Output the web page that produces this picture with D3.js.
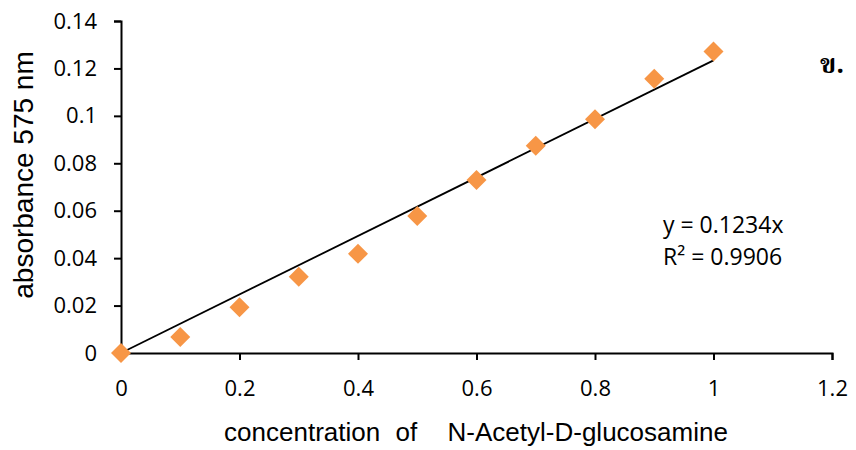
<!DOCTYPE html>
<html>
<head>
<meta charset="utf-8">
<script src="https://cdn.jsdelivr.net/npm/d3@7"></script>
<style>
  body { margin: 0; background: #fff; }
  text { font-family: "Open Sans", "Liberation Sans", sans-serif; fill: #000; }
  .title { font-family: "Liberation Sans", Arial, sans-serif; }
</style>
</head>
<body>
<svg width="856" height="450"></svg>
<script>
// concentration of N-Acetyl-D-glucosamine vs absorbance at 575 nm
var concentration = [0, 0.1, 0.2, 0.3, 0.4, 0.5, 0.6, 0.7, 0.8, 0.9, 1.0];
var absorbance = [0, 0.0067, 0.0193, 0.0322, 0.0418, 0.0578, 0.0730, 0.0874, 0.0986, 0.1157, 0.1271];
var slope = 0.1234;
var xTicks = [0, 0.2, 0.4, 0.6, 0.8, 1, 1.2];
var yTicks = [0, 0.02, 0.04, 0.06, 0.08, 0.1, 0.12, 0.14];
var equationLines = ["y = 0.1234x", "R\u00b2 = 0.9906"];

var svg = d3.select("svg");
var x = d3.scaleLinear().domain([0, 1.2]).range([121, 832]);
var y = d3.scaleLinear().domain([0, 0.14]).range([353, 21]);

var xAxis = svg.append("g")
    .attr("transform", "translate(0," + y(0) + ")")
    .call(d3.axisBottom(x).tickValues(xTicks).tickFormat(d3.format("")).tickSize(7).tickPadding(20));
var yAxis = svg.append("g")
    .attr("transform", "translate(" + x(0) + ",0)")
    .call(d3.axisLeft(y).tickValues(yTicks).tickFormat(d3.format("")).tickSize(7).tickPadding(17));

[xAxis, yAxis].forEach(function(g){
    g.select(".domain").attr("stroke", "#000").attr("stroke-width", 2);
    g.selectAll(".tick line").attr("stroke", "#000").attr("stroke-width", 2);
    g.selectAll(".tick text").attr("font-size", 22).attr("font-family", null).attr("fill", "#000");
});

// trendline
svg.append("line")
    .attr("x1", x(0)).attr("y1", y(0))
    .attr("x2", x(1)).attr("y2", y(slope))
    .attr("stroke", "#000").attr("stroke-width", 1.8);

var diamond = d3.symbol().type(d3.symbolSquare).size(200);
svg.selectAll("path.pt")
    .data(concentration)
    .enter().append("path")
    .attr("class", "pt")
    .attr("d", diamond)
    .attr("transform", function(d, i){ return "translate(" + x(d) + "," + y(absorbance[i]) + ") rotate(45)"; })
    .attr("fill", "#F79646");

svg.selectAll("text.eq")
    .data(equationLines)
    .enter().append("text")
    .attr("class", "eq")
    .attr("x", 663)
    .attr("y", function(d, i){ return 233 + i * 32; })
    .attr("font-size", 23)
    .text(function(d){ return d; });

svg.append("text")
    .attr("class", "title")
    .attr("x", 476).attr("y", 441)
    .attr("text-anchor", "middle")
    .attr("font-size", 26)
    .attr("xml:space", "preserve")
    .style("white-space", "pre")
    .style("word-spacing", "8px")
    .text("concentration of  N-Acetyl-D-glucosamine");

svg.append("text")
    .attr("class", "title")
    .attr("transform", "translate(33,175) rotate(-90)")
    .attr("text-anchor", "middle")
    .attr("font-size", 28)
    .text("absorbance 575 nm");

svg.append("text")
    .attr("x", 820).attr("y", 73)
    .attr("font-size", 27)
    .attr("font-weight", "bold")
    .style("font-family", "'Noto Serif Thai', 'Noto Sans Thai', serif")
    .text("ข.");
</script>
</body>
</html>
